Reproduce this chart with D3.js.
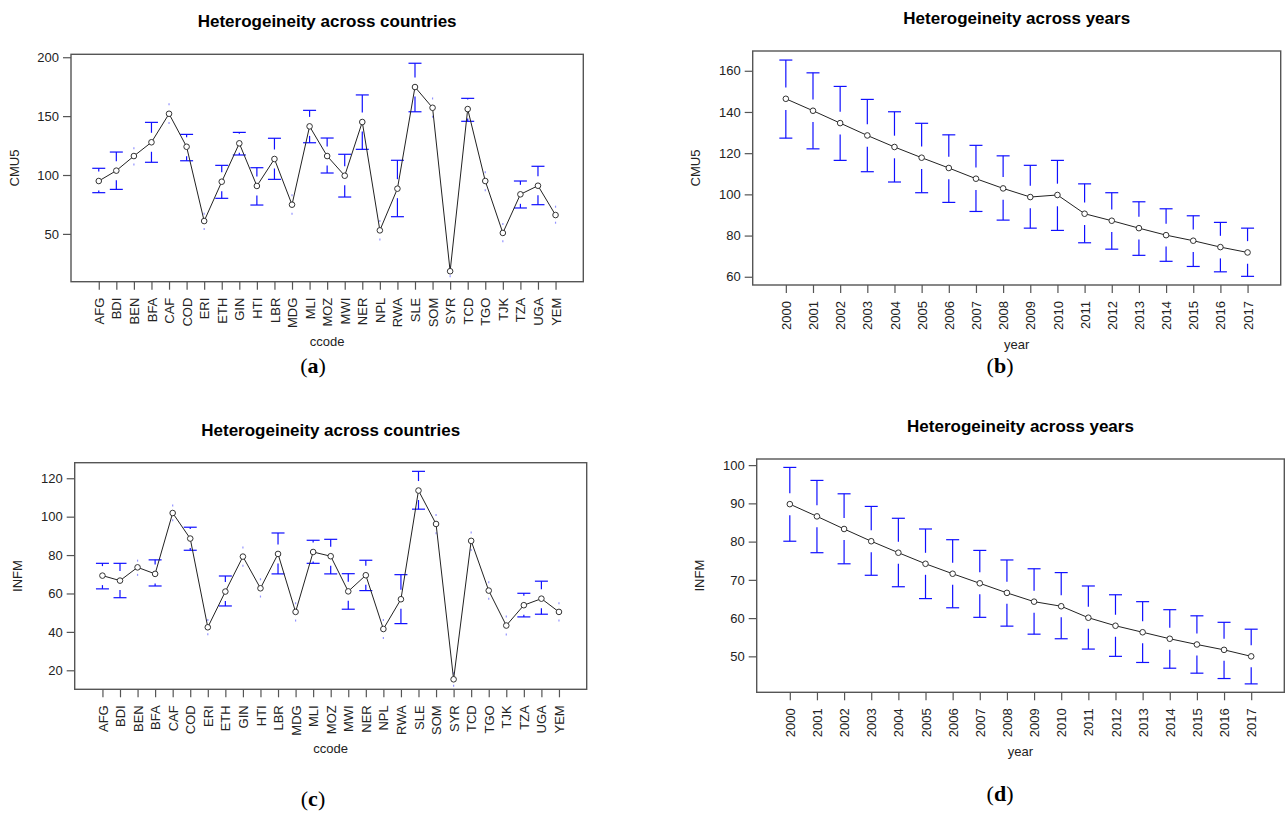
<!DOCTYPE html>
<html>
<head>
<meta charset="utf-8">
<script src="https://cdn.jsdelivr.net/npm/d3@7"></script>
<style>
  body { margin: 0; background: #fff; }
  svg { display: block; font-family: "Liberation Sans", Arial, sans-serif; }
  .tick-label { font-size: 13px; fill: #222; }
  .axis-title { font-size: 13px; fill: #222; }
  .main-title { font-size: 17px; font-weight: bold; fill: #000; }
  .panel-label { font-family: "Liberation Serif", "DejaVu Serif", serif; font-size: 22px; fill: #000; }
</style>
</head>
<body>
<div id="chart"></div>
<script>
const countries = ['AFG', 'BDI', 'BEN', 'BFA', 'CAF', 'COD', 'ERI', 'ETH', 'GIN', 'HTI', 'LBR', 'MDG', 'MLI', 'MOZ',
    'MWI', 'NER', 'NPL', 'RWA', 'SLE', 'SOM', 'SYR', 'TCD', 'TGO', 'TJK', 'TZA', 'UGA', 'YEM'];
const years = ['2000', '2001', '2002', '2003', '2004', '2005', '2006', '2007', '2008', '2009', '2010', '2011',
    '2012', '2013', '2014', '2015', '2016', '2017'];

// (a) CMU5 by country
const cmu5Country = [94.9, 103.7, 116.1, 127.8, 152, 124, 60.9, 94.3, 126.9, 90.7, 113.6, 74.8, 141.3, 116.1,
    99.4, 145, 53, 88.4, 174.7, 157.1, 18.3, 156, 94.9, 50.8, 83.6, 90.9, 66];
const cmu5CountryHi = [105.7, 119.5, 122.7, 144.7, 160, 134.5, 67, 108.2, 136.2, 106.2, 131.2, 82.8, 154.9, 131.4,
    117.6, 168, 61, 112.5, 194.9, 165, 22, 165.1, 102.3, 58.4, 94.9, 107.4, 73.1];
const cmu5CountryLo = [85, 87.8, 109, 110.8, 144.2, 112.1, 54.1, 80.2, 117, 74.5, 96.3, 67, 127.4, 101.7,
    81.3, 121.8, 45.2, 64.6, 153.7, 149.5, 14, 145.6, 87, 43.7, 72, 74.8, 59.5];

// (b) CMU5 by year
const cmu5Year = [146.4, 140.6, 134.6, 128.6, 123, 117.8, 112.8, 107.6, 102.9, 98.7, 99.7, 90.6, 87.2, 83.6,
    80.2, 77.5, 74.4, 71.8];
const cmu5YearHi = [165.2, 159, 152.4, 146.1, 140.1, 134.5, 128.9, 123.8, 118.7, 114.1, 116.5, 105.1, 100.8, 96.4,
    93, 89.6, 86.4, 83.6];
const cmu5YearLo = [127.3, 122.1, 116.5, 111, 106, 100.8, 96.1, 91.7, 87.5, 83.6, 82.5, 76.5, 73.4, 70.4,
    67.5, 65, 62.4, 60.2];

// (c) INFM by country
const infmCountry = [69.3, 66.7, 73.6, 70.2, 101.9, 88.6, 42.4, 61, 79.2, 62.7, 80.6, 50.4, 81.6, 79.4,
    61.1, 69.5, 41.5, 57, 113.6, 96.2, 15.3, 87.4, 61.5, 43.3, 53.9, 57.3, 50.4];
const infmCountryHi = [75.7, 75.7, 77.1, 77.5, 105.8, 94.5, 46.2, 69.1, 84, 67.4, 91.5, 54.9, 87.7, 88.2,
    70.3, 77.3, 46.2, 69.8, 123.6, 100.9, 18.5, 91.7, 65.8, 48, 60.1, 66.4, 54.9];
const infmCountryLo = [62.4, 57.8, 69.7, 63.9, 98.1, 82.5, 38.8, 53.5, 74.5, 58.4, 70.2, 45.9, 75.7, 70.2,
    51.8, 61.5, 36.8, 44.3, 103.9, 91.4, 12, 82.7, 57.3, 38.6, 47.8, 49.2, 45.9];

// (d) INFM by year
const infmYear = [89.8, 86.6, 83.3, 80.1, 77.1, 74.2, 71.6, 69.1, 66.6, 64.3, 63.1, 60.1, 58, 56.3,
    54.6, 53.1, 51.7, 50];
const infmYearHi = [99.4, 96, 92.5, 89.2, 86.1, 83.3, 80.5, 77.7, 75.2, 72.9, 71.9, 68.4, 66.1, 64.3,
    62.2, 60.6, 58.9, 57.1];
const infmYearLo = [80.1, 77.1, 74.2, 71.2, 68.2, 65.1, 62.7, 60.2, 57.9, 55.8, 54.6, 51.9, 50, 48.4,
    46.9, 45.6, 44.2, 42.8];

const width = 1285, height = 814;
const svg = d3.select('#chart').append('svg')
    .attr('width', width)
    .attr('height', height);

function plotMeans(cfg) {
    const { left, right, top, bottom } = cfg.box;
    const n = cfg.labels.length;
    const pad = 0.5 + 0.04 * n;
    const x = d3.scaleLinear().domain([-pad, n - 1 + pad]).range([left, right]);
    const y = d3.scaleLinear().domain(cfg.yDomain).range([bottom, top]);
    const g = svg.append('g');

    // error bars, with a gap round each point
    const capHalf = 6.5;
    const bars = g.append('g').attr('stroke', '#1010ff').attr('stroke-width', 1.2);
    cfg.means.forEach((m, i) => {
        const cx = x(i), cy = y(m);
        [[cfg.hi[i], -1], [cfg.lo[i], 1]].forEach(([v, dir]) => {
            const end = y(v);
            const inner = cy + dir * cfg.gap;
            if ((end - inner) * dir > 0) {
                bars.append('line').attr('x1', cx).attr('x2', cx).attr('y1', inner).attr('y2', end);
                bars.append('line').attr('x1', cx - capHalf).attr('x2', cx + capHalf).attr('y1', end).attr('y2', end);
            } else {
                bars.append('line').attr('x1', cx).attr('x2', cx)
                    .attr('y1', end - 1).attr('y2', end + 1)
                    .attr('stroke-opacity', 0.45);
            }
        });
    });

    g.append('path')
        .datum(cfg.means)
        .attr('fill', 'none')
        .attr('stroke', '#222')
        .attr('stroke-width', 1)
        .attr('d', d3.line().x((d, i) => x(i)).y(d => y(d)));

    g.append('g').selectAll('circle').data(cfg.means).enter()
        .append('circle')
        .attr('cx', (d, i) => x(i))
        .attr('cy', d => y(d))
        .attr('r', 2.8)
        .attr('fill', '#fff')
        .attr('stroke', '#333')
        .attr('stroke-width', 1);

    // box
    g.append('rect')
        .attr('x', left).attr('y', top)
        .attr('width', right - left).attr('height', bottom - top)
        .attr('fill', 'none').attr('stroke', '#555').attr('stroke-width', 1.4);

    // y axis
    const yAxis = g.append('g').attr('transform', `translate(${left},0)`)
        .call(d3.axisLeft(y).tickValues(cfg.yTicks).tickSize(8).tickPadding(4).tickFormat(d3.format('d')));
    yAxis.select('.domain').remove();
    yAxis.selectAll('line').attr('stroke', '#555').attr('stroke-width', 1.2);
    yAxis.selectAll('text').attr('class', 'tick-label').attr('font-size', null).attr('font-family', null);

    // x axis
    const xAxis = g.append('g').attr('transform', `translate(0,${bottom})`)
        .call(d3.axisBottom(x).tickValues(d3.range(n)).tickSize(8).tickFormat(i => cfg.labels[i]));
    xAxis.select('.domain').remove();
    xAxis.selectAll('line').attr('stroke', '#555').attr('stroke-width', 1.2);
    xAxis.selectAll('text')
        .attr('class', 'tick-label')
        .attr('font-size', null).attr('font-family', null)
        .attr('text-anchor', 'end')
        .attr('dy', '0.35em')
        .attr('y', 0)
        .attr('transform', 'translate(0,16) rotate(-90)');

    const cxMid = (left + right) / 2;
    g.append('text').attr('class', 'main-title')
        .attr('x', cxMid).attr('y', top - 32.5)
        .attr('text-anchor', 'middle').attr('dominant-baseline', 'central')
        .text(cfg.title);
    g.append('text').attr('class', 'axis-title')
        .attr('x', cxMid).attr('y', bottom + 59.5)
        .attr('text-anchor', 'middle').attr('dominant-baseline', 'central')
        .text(cfg.xlab);
    g.append('text').attr('class', 'axis-title')
        .attr('transform', `translate(${left - 57},${(top + bottom) / 2}) rotate(-90)`)
        .attr('text-anchor', 'middle').attr('dominant-baseline', 'central')
        .text(cfg.ylab);

    const lab = g.append('text').attr('class', 'panel-label')
        .attr('x', cfg.tag.x).attr('y', cfg.tag.y)
        .attr('text-anchor', 'middle');
    lab.append('tspan').text('(');
    lab.append('tspan').attr('font-weight', 'bold').text(cfg.tag.letter);
    lab.append('tspan').text(')');
}

plotMeans({
    labels: countries, means: cmu5Country, hi: cmu5CountryHi, lo: cmu5CountryLo,
    box: { left: 71, right: 583.3, top: 54.3, bottom: 281.7 },
    yDomain: [9.4, 202.5], yTicks: [50, 100, 150, 200], gap: 9.5,
    title: 'Heterogeineity across countries', xlab: 'ccode', ylab: 'CMU5',
    tag: { letter: 'a', x: 313, y: 373 }
});
plotMeans({
    labels: years, means: cmu5Year, hi: cmu5YearHi, lo: cmu5YearLo,
    box: { left: 752.7, right: 1280.7, top: 51, bottom: 285 },
    yDomain: [56, 169.6], yTicks: [60, 80, 100, 120, 140, 160], gap: 11.3,
    title: 'Heterogeineity across years', xlab: 'year', ylab: 'CMU5',
    tag: { letter: 'b', x: 1000, y: 373 }
});
plotMeans({
    labels: countries, means: infmCountry, hi: infmCountryHi, lo: infmCountryLo,
    box: { left: 74.7, right: 586.7, top: 462.7, bottom: 689.3 },
    yDomain: [10.1, 128.1], yTicks: [20, 40, 60, 80, 100, 120], gap: 9.5,
    title: 'Heterogeineity across countries', xlab: 'ccode', ylab: 'INFM',
    tag: { letter: 'c', x: 313, y: 806 }
});
plotMeans({
    labels: years, means: infmYear, hi: infmYearHi, lo: infmYearLo,
    box: { left: 756.7, right: 1284.3, top: 459, bottom: 692.3 },
    yDomain: [40.6, 101.6], yTicks: [50, 60, 70, 80, 90, 100], gap: 11,
    title: 'Heterogeineity across years', xlab: 'year', ylab: 'INFM',
    tag: { letter: 'd', x: 1000, y: 801 }
});
</script>
</body>
</html>
